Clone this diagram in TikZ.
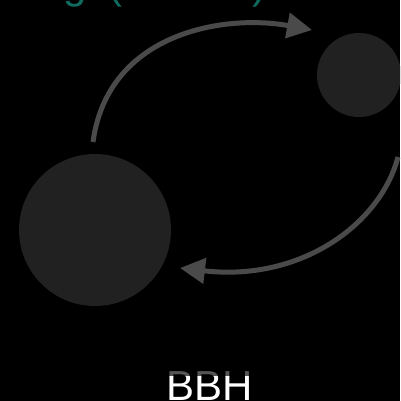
\documentclass[tikz,border=0pt]{standalone}
\usepackage{fontspec}
\setmainfont{Liberation Sans}
\usetikzlibrary{arrows.meta}
\definecolor{bodyc}{HTML}{212121}
\definecolor{arrc}{HTML}{4A4A4A}
\definecolor{tealc}{HTML}{0F6B5E}
\definecolor{fadec}{HTML}{555555}
\begin{document}
\begin{tikzpicture}[x=1pt,y=-1pt,
  body/.style={circle,fill=bodyc,inner sep=0pt},
  flow/.style={draw=arrc,line width=5pt,-{Triangle[length=25pt,width=25pt]}},
  lbl/.style={inner sep=0pt,font=\fontsize{42}{48}\selectfont}]
\useasboundingbox (0,0) rectangle (400,401);
\clip (0,0) rectangle (400,401);
\fill[black] (0,0) rectangle (400,401);
\node[body,minimum size=152pt] (big) at (95,230) {};
\node[body,minimum size=84pt] (small) at (359,75) {};
\coordinate (s1) at (93,142);
\coordinate (e1) at (312,30);
\coordinate (s2) at (398,157);
\coordinate (e2) at (180,268);
\draw[flow] (s1) .. controls (108,32) and (225,14) .. (e1);
\draw[flow] (s2) .. controls (380,225) and (300,282) .. (e2);
\node[lbl,text=tealc,anchor=base west] (top) at (0,-1) {Ring\hspace{10pt} (BH-NS)};
\begin{scope}
\clip (0,0) rectangle (400,376);
\node[lbl,text=fadec,anchor=base] (bbh) at (210,400) {BBH};
\end{scope}
\begin{scope}
\clip (0,376) rectangle (400,401);
\node[lbl,text=white,anchor=base] (bbh2) at (210,400) {BBH};
\end{scope}
\end{tikzpicture}
\end{document}
